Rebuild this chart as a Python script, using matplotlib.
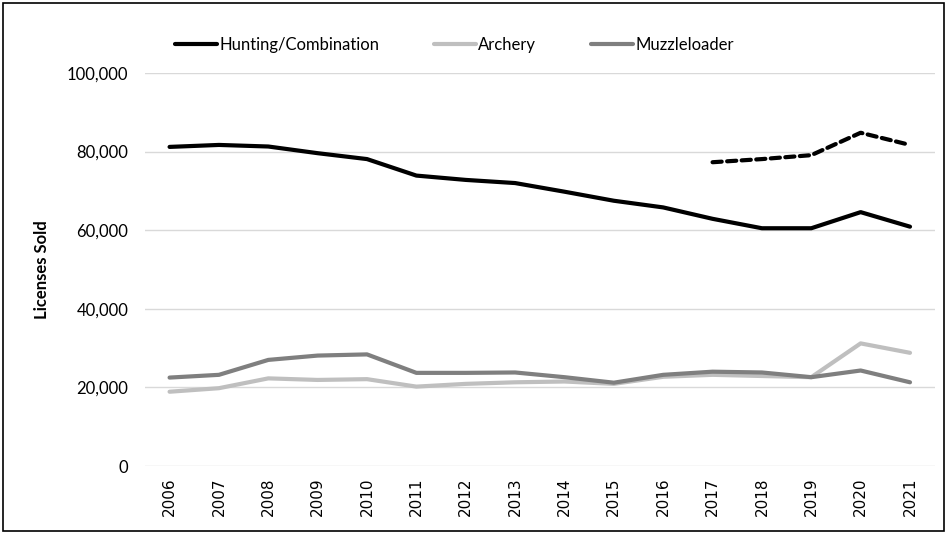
import numpy as np
import matplotlib
matplotlib.use("Agg")
import matplotlib.pyplot as plt
from matplotlib.patches import Rectangle

years = [str(y) for y in range(2006, 2022)]
hunting = [81200, 81700, 81300, 79600, 78100, 73900, 72800, 72000, 69800, 67500,
           65800, 62900, 60500, 60500, 64600, 60900]
archery = [18900, 19800, 22300, 21900, 22100, 20200, 20900, 21300, 21500, 20900,
           22700, 23200, 22900, 22600, 31200, 28800]
muzzle = [22500, 23200, 27000, 28100, 28400, 23700, 23700, 23800, 22600, 21200,
          23200, 24000, 23800, 22600, 24300, 21300]
# dashed series (2017 onward)
dashed_years = years[11:]
dashed_vals = [77300, 78100, 79100, 84800, 81700]

plt.rcParams['font.family'] = ['Lato', 'DejaVu Sans']

fig = plt.figure(figsize=(9.47, 5.33), dpi=100)
ax = fig.add_axes([0.153, 0.1257, 0.834, 0.7373])

x = np.arange(len(years))
xd = np.arange(11, 16)
lw = 3.0
ax.plot(x, hunting, color='black', lw=lw, solid_capstyle='round', label='Hunting/Combination', zorder=3)
ax.plot(x, archery, color='#bfbfbf', lw=lw, solid_capstyle='round', label='Archery', zorder=3)
ax.plot(x, muzzle, color='#7f7f7f', lw=lw, solid_capstyle='round', label='Muzzleloader', zorder=4)
ax.plot(xd, dashed_vals, color='black', lw=lw, dashes=(2.2, 1.3), dash_capstyle='round', zorder=3)

ax.set_xlim(-0.5, 15.5)
ax.set_ylim(0, 100000)
ax.set_yticks(range(0, 100001, 20000))
ax.set_yticklabels(['{:,}'.format(v) for v in range(0, 100001, 20000)], fontsize=12)
ax.set_xticks(x)
ax.set_xticklabels(years, rotation=90, fontsize=11, family='DejaVu Sans')
ax.tick_params(length=0, pad=8)
ax.tick_params(axis='y', pad=12)
ax.grid(axis='y', color='#d9d9d9', lw=1)
ax.set_axisbelow(True)
for s in ax.spines.values():
    s.set_visible(False)

ax.set_ylabel('Licenses Sold', fontsize=12, fontweight='bold', labelpad=12)

fig.legend(loc='center', bbox_to_anchor=(0.48, 0.916), ncol=3, frameon=False,
           fontsize=12, handlelength=2.5, handletextpad=0.15, columnspacing=3.3)

fig.patches.append(Rectangle((0.003, 0.003), 0.994, 0.992, transform=fig.transFigure,
                             fill=False, edgecolor='black', lw=1.2))

fig.savefig('out.png', dpi=100)
